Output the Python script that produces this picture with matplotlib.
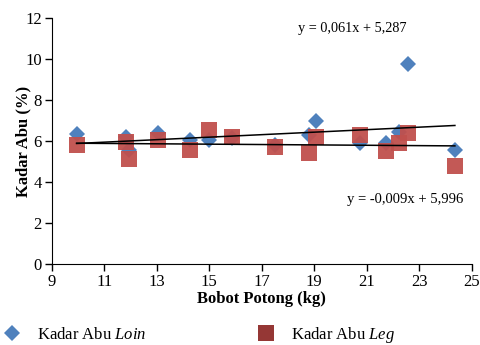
import matplotlib.pyplot as plt
from matplotlib.lines import Line2D

plt.rcParams['font.family'] = ['Liberation Serif', 'DejaVu Serif']
plt.rcParams['mathtext.fontset'] = 'custom'
plt.rcParams['mathtext.it'] = 'Liberation Serif:italic'
plt.rcParams['mathtext.rm'] = 'Liberation Serif'

# Bobot potong (kg)
bobot = [9.95, 11.83, 11.96, 13.06, 14.27, 15.0, 15.86, 17.5, 18.81, 19.07, 20.74, 21.74, 22.24, 22.59, 24.36]
# Kadar abu (%)
abu_loin = [6.38, 6.22, 5.57, 6.39, 6.06, 6.05, 6.15, 5.8, 6.31, 7.0, 5.9, 5.9, 6.47, 9.77, 5.57]
abu_leg = [5.82, 5.98, 5.12, 6.06, 5.57, 6.55, 6.19, 5.74, 5.44, 6.22, 6.3, 5.54, 5.93, 6.39, 4.8]

# trendline coefficients as printed on the chart
loin_fit = (0.061, 5.287)
leg_fit = (-0.009, 5.996)

blue = '#4F81BD'
red = '#C0504D'

fig = plt.figure(figsize=(4.8, 3.45), dpi=100)
ax = fig.add_axes([0.1077, 0.2339, 0.875, 0.713])

ax.plot(bobot, abu_loin, 'D', color=blue, markersize=8.5, markeredgewidth=0, zorder=2)
ax.plot(bobot, abu_leg, 's', color=red, markersize=11.5, markeredgewidth=0, alpha=0.95, zorder=3)

xs = [min(bobot), max(bobot)]
ax.plot(xs, [loin_fit[0] * x + loin_fit[1] for x in xs], color='black', lw=1.1, zorder=4)
ax.plot(xs, [leg_fit[0] * x + leg_fit[1] for x in xs], color='black', lw=1.1, zorder=4)

ax.text(18.38, 11.5, 'y = 0,061x + 5,287', fontsize=10.3, va='center')
ax.text(20.25, 3.14, 'y = -0,009x + 5,996', fontsize=10.5, va='center')

ax.set_xlim(9, 25)
ax.set_ylim(0, 12)
ax.set_xticks(range(9, 26, 2))
ax.set_yticks(range(0, 13, 2))
ax.tick_params(labelsize=12, length=5, width=1, pad=2)
ax.spines['top'].set_visible(False)
ax.spines['right'].set_visible(False)
ax.set_xlabel('Bobot Potong (kg)', fontsize=12, fontweight='bold', labelpad=1)
ax.set_ylabel('Kadar Abu (%)', fontsize=12, fontweight='bold', labelpad=-4)

handles = [Line2D([], [], marker='D', ls='', color=blue, markersize=8.5, markeredgewidth=0),
           Line2D([], [], marker='s', ls='', color='#953735', markersize=11, markeredgewidth=0)]
fig.legend(handles, ['Kadar Abu $\\it{Loin}$', 'Kadar Abu $\\it{Leg}$'], ncol=2,
           loc='lower left', bbox_to_anchor=(-0.041, -0.0435), frameon=False, fontsize=12,
           columnspacing=6.2, handletextpad=0.5)

fig.savefig('out.png')
